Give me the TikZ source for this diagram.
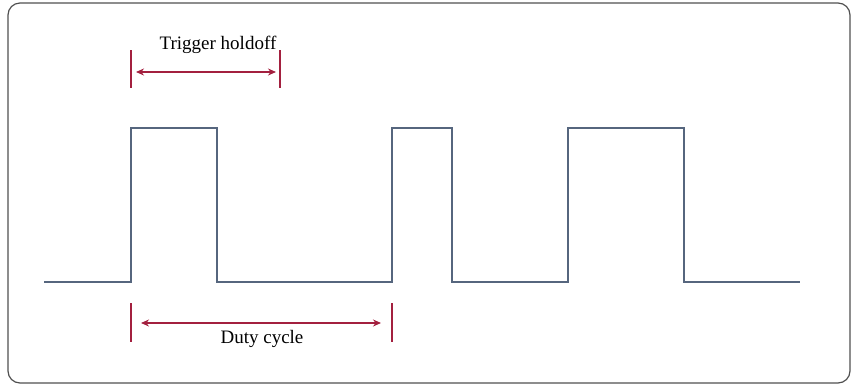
\documentclass[tikz,border=0pt]{standalone}
\usepackage{fontspec}
\setmainfont{Liberation Serif}
\usetikzlibrary{arrows.meta}
\definecolor{wavecol}{HTML}{56667E}
\definecolor{dimcol}{HTML}{A3203F}
\definecolor{framecol}{HTML}{505050}
\begin{document}
\begin{tikzpicture}[x=1pt,y=-1pt,
  frame/.style={draw=framecol,line width=1.2pt,rounded corners=12pt},
  wave/.style={draw=wavecol,line width=1.8pt},
  dim/.style={draw=dimcol,line width=1.3pt},
  dimarrow/.style={dim,line width=1.5pt,<->,>={Stealth[length=8pt,width=7pt]}},
  lbl/.style={font=\fontsize{19}{19}\selectfont,inner sep=0pt}]
\useasboundingbox (0,0) rectangle (852,384);
\draw[frame] (8,3) rectangle (850,383);
% waveform
\coordinate (w0) at (44,282);
\coordinate (w1) at (131,282);
\coordinate (w2) at (131,128);
\coordinate (w3) at (217,128);
\coordinate (w4) at (217,282);
\coordinate (w5) at (392,282);
\coordinate (w6) at (392,128);
\coordinate (w7) at (452,128);
\coordinate (w8) at (452,282);
\coordinate (w9) at (568,282);
\coordinate (w10) at (568,128);
\coordinate (w11) at (684,128);
\coordinate (w12) at (684,282);
\coordinate (w13) at (800,282);
\draw[wave] (w0)--(w1)--(w2)--(w3)--(w4)--(w5)--(w6)--(w7)--(w8)--(w9)--(w10)--(w11)--(w12)--(w13);
% trigger holdoff
\coordinate (t1a) at (131,50); \coordinate (t1b) at (131,88);
\coordinate (t2a) at (280,50); \coordinate (t2b) at (280,88);
\draw[dim] (t1a)--(t1b); \draw[dim] (t2a)--(t2b);
\coordinate (ta) at (136,72); \coordinate (tb) at (276,72);
\draw[dimarrow] (ta)--(tb);
\node[lbl] (th) at (218,45) {Trigger holdoff};
% duty cycle
\coordinate (d1a) at (131,303); \coordinate (d1b) at (131,342);
\coordinate (d2a) at (392,303); \coordinate (d2b) at (392,342);
\draw[dim] (d1a)--(d1b); \draw[dim] (d2a)--(d2b);
\coordinate (da) at (141,323); \coordinate (db) at (381,323);
\draw[dimarrow] (da)--(db);
\node[lbl] (dc) at (262,339) {Duty cycle};
\end{tikzpicture}
\end{document}
